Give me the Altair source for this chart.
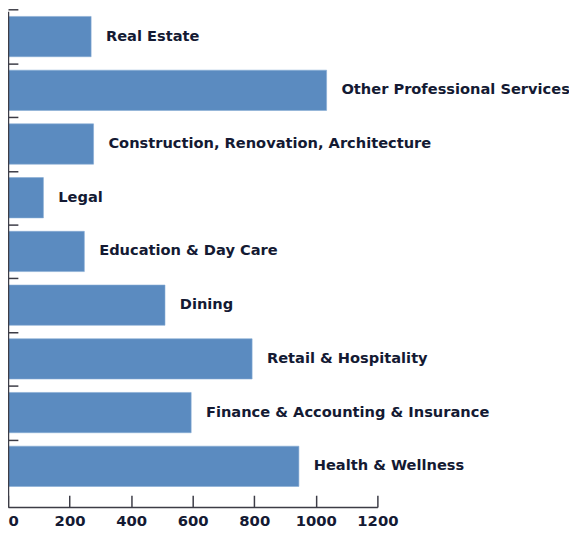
import altair as alt
import pandas as pd

categories = [
    "Real Estate",
    "Other Professional Services",
    "Construction, Renovation, Architecture",
    "Legal",
    "Education & Day Care",
    "Dining",
    "Retail & Hospitality",
    "Finance & Accounting & Insurance",
    "Health & Wellness",
]
values = [270, 1035, 278, 115, 248, 510, 793, 595, 945]
x_ticks = [0, 200, 400, 600, 800, 1000, 1200]

df = pd.DataFrame({"category": categories, "value": values})

W, H = 374, 502
P_IN, P_OUT = 0.25, 0.24
STEP = H / (len(categories) - P_IN + 2 * P_OUT)
FONT = "DejaVu Sans"
AX = "#3c3c46"
TXT = "#141a33"

yscale = alt.Scale(domain=categories, paddingInner=P_IN, paddingOuter=P_OUT, align=0.2)
xscale = alt.Scale(domain=[0, 1200], nice=False, zero=True)

base = alt.Chart(df).encode(
    y=alt.Y(
        "category:N",
        scale=yscale,
        sort=categories,
        axis=alt.Axis(
            orient="right", offset=-W, labels=False, ticks=True,
            tickOffset=-STEP / 2, tickSize=10, tickColor=AX, tickWidth=1.5,
            domain=True, domainColor=AX, domainWidth=1.5, title=None, grid=False,
            zindex=1,
        ),
    )
)

bars = base.mark_bar(color="#5b8bc0", stroke="#86abd4", strokeWidth=0.6).encode(
    x=alt.X(
        "value:Q",
        scale=xscale,
        axis=alt.Axis(
            orient="bottom", values=x_ticks, format="d", ticks=False, domain=True,
            grid=False, title=None, labelPadding=7, labelFont=FONT,
            labelFontSize=15, labelFontWeight="bold", labelColor=TXT,
            domainColor=AX, domainWidth=1.5, labelFlush=False, zindex=1,
            labelAlign={"condition": {"test": "datum.value == 0", "value": "left"}, "value": "center"},
        ),
    ),
)

text = base.mark_text(
    align="left", baseline="middle", dx=15, font=FONT, fontSize=14.8,
    fontWeight="bold", color=TXT,
).encode(
    x=alt.X(
        "value:Q",
        scale=xscale,
        axis=alt.Axis(
            orient="top", offset=-H, values=x_ticks, labels=False, ticks=True,
            tickSize=12, tickColor=AX, tickWidth=1.5, domain=False, grid=False,
            title=None, zindex=1,
        ),
    ),
    text="category:N",
)

chart = (
    alt.layer(bars, text)
    .resolve_axis(x="independent")
    .properties(
        width=W,
        height=H,
        autosize=alt.AutoSizeParams(type="none"),
        padding={"left": 0, "top": 0, "right": 194, "bottom": 30},
    )
    .configure_view(stroke=None)
)

chart.save("out.html", embed_options={"renderer": "svg", "actions": False})
